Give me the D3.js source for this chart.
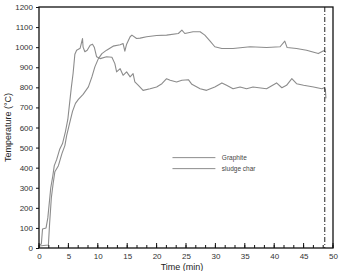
<!DOCTYPE html>
<html>
<head>
<meta charset="utf-8">
<script src="https://cdn.jsdelivr.net/npm/d3@7"></script>
<style>
  body { margin: 0; background: #fff; }
  svg text { font-family: "Liberation Sans", Arial, sans-serif; }
</style>
</head>
<body>
<div id="chart"></div>
<script>
// Temperature vs time, two furnace runs (graphite / sludge char)
var graphite = [
  [0, 15], [0.4, 20], [0.6, 95], [1.2, 100], [1.5, 150], [2.0, 300], [2.3, 350], [2.6, 410],
  [3.0, 440], [3.5, 490], [4.0, 520], [4.5, 580], [4.9, 640], [5.2, 720], [5.5, 800], [5.8, 870],
  [6.1, 965], [6.4, 985], [7.0, 995], [7.4, 1043], [7.5, 1000], [7.8, 977], [8.2, 985], [8.7, 1010],
  [9.1, 1015], [9.4, 1000], [9.8, 952], [10.4, 943], [11.5, 952], [12.4, 950], [12.9, 918], [13.2, 877],
  [13.8, 893], [14.3, 860], [14.9, 877], [15.5, 852], [16.0, 868], [16.3, 827], [16.9, 810], [17.7, 785],
  [18.9, 793], [20.0, 802], [20.9, 818], [21.7, 843], [22.3, 835], [23.4, 827], [24.3, 835], [25.4, 838],
  [26.0, 815], [27.4, 793], [28.5, 785], [29.9, 802], [31.1, 822], [31.9, 810], [33.0, 793], [34.2, 802],
  [35.3, 793], [36.4, 802], [38.7, 793], [40.4, 822], [41.3, 798], [42.1, 810], [43.0, 843], [43.8, 818],
  [45.0, 810], [46.7, 802], [48.1, 793], [48.5, 798], [48.7, 790], [48.8, 745]
]
var sludgeChar = [
  [0, 10], [1.6, 15], [1.8, 120], [2.1, 250], [2.4, 320], [2.7, 380], [3.3, 410], [3.9, 470],
  [4.4, 510], [4.7, 560], [5.2, 620], [5.7, 680], [6.2, 720], [6.7, 740], [7.5, 765], [8.4, 802],
  [9.0, 852], [9.5, 902], [10.1, 943], [10.7, 968], [11.5, 985], [12.6, 1005], [13.8, 1012], [14.3, 1018],
  [14.6, 980], [14.9, 1015], [15.5, 1052], [15.8, 1060], [16.6, 1043], [17.2, 1045], [18.3, 1052], [20.0, 1058],
  [21.7, 1060], [23.7, 1068], [24.3, 1085], [24.8, 1068], [26.2, 1077], [27.4, 1077], [28.2, 1060], [29.1, 1030],
  [29.9, 1002], [31.1, 993], [33.0, 993], [35.9, 1002], [38.7, 998], [41.0, 1002], [41.8, 1030], [42.2, 998],
  [43.8, 993], [45.5, 985], [47.5, 968], [48.4, 982], [48.8, 975]
]
var seriesNames = ['Graphite', 'sludge char']
var yTicks = d3.range(0, 1201, 100)
var xMajor = d3.range(0, 51, 5)
var xMinor = d3.range(0, 50.01, 5 / 3)
var endTime = 48.6

var W = 339, H = 271
var margin = {top: 7, right: 6, bottom: 23, left: 39}
var width = W - margin.left - margin.right
var height = H - margin.top - margin.bottom

var svg = d3.select('#chart').append('svg').attr('width', W).attr('height', H)
var g = svg.append('g').attr('transform', 'translate(' + margin.left + ',' + margin.top + ')')

var x = d3.scaleLinear().domain([0, 50]).range([0, width])
var y = d3.scaleLinear().domain([0, 1200]).range([height, 0])

var line = d3.line().x(function(d){ return x(d[0]) }).y(function(d){ return y(d[1]) })

;[graphite, sludgeChar].forEach(function(s){
  g.append('path').attr('d', line(s))
    .attr('fill', 'none').attr('stroke', '#8c8c8c').attr('stroke-width', 1.1)
    .attr('stroke-linejoin', 'round')
})

// end-of-run marker
g.append('line')
  .attr('x1', x(endTime)).attr('x2', x(endTime)).attr('y1', 0).attr('y2', height)
  .attr('stroke', '#222').attr('stroke-width', 1).attr('stroke-dasharray', '5,2,1,2')

// frame
g.append('rect').attr('width', width).attr('height', height)
  .attr('fill', 'none').attr('stroke', '#111').attr('stroke-width', 1.3)

// y axis: outward ticks
var yAxis = g.append('g').call(d3.axisLeft(y).tickValues(yTicks).tickFormat(d3.format('d')).tickSize(3).tickPadding(3))
yAxis.select('.domain').remove()
yAxis.selectAll('text').attr('font-size', 8).attr('fill', '#333')
yAxis.selectAll('line').attr('stroke', '#111')

// x axis: inward ticks, minor every 5/3 min
var xAxis = g.append('g').attr('transform', 'translate(0,' + height + ')')
  .call(d3.axisBottom(x).tickValues(xMajor).tickSize(0).tickPadding(5))
xAxis.select('.domain').remove()
xAxis.selectAll('text').attr('font-size', 8).attr('fill', '#333')
g.selectAll('.xminor').data(xMinor).join('line')
  .attr('x1', x).attr('x2', x).attr('y1', height).attr('y2', height - 3)
  .attr('stroke', '#111').attr('stroke-width', 1)
g.selectAll('.xmajor').data(xMajor).join('line')
  .attr('x1', x).attr('x2', x).attr('y1', height).attr('y2', height - 5)
  .attr('stroke', '#111').attr('stroke-width', 1)

// axis titles
svg.append('text').text('Time (min)')
  .attr('x', margin.left + width / 2 - 4).attr('y', H - 1)
  .attr('text-anchor', 'middle').attr('font-size', 9).attr('fill', '#222')
svg.append('text').text('Temperature (°C)')
  .attr('transform', 'translate(11,' + (margin.top + height / 2) + ') rotate(-90)')
  .attr('text-anchor', 'middle').attr('font-size', 9).attr('fill', '#222')

// legend
var leg = g.append('g')
seriesNames.forEach(function(name, i){
  var ly = y(450) + i * 11
  leg.append('line').attr('x1', x(22.7)).attr('x2', x(30)).attr('y1', ly).attr('y2', ly)
    .attr('stroke', '#8c8c8c').attr('stroke-width', 1)
  leg.append('text').text(name).attr('x', x(31.1)).attr('y', ly + 2.5)
    .attr('font-size', 6.5).attr('fill', '#444')
})
</script>
</body>
</html>
